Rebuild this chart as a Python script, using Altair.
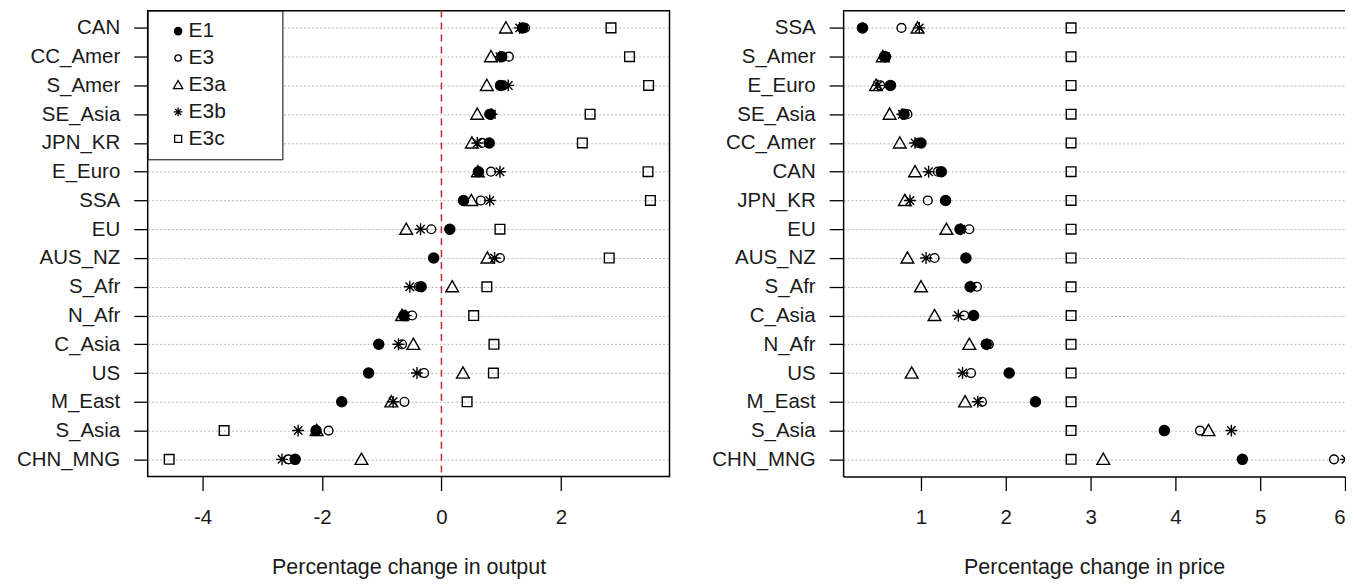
import altair as alt
import pandas as pd

series = ["E1", "E3", "E3a", "E3b", "E3c"]

# ---- left panel: percentage change in output ----
out_regions = ["CAN", "CC_Amer", "S_Amer", "SE_Asia", "JPN_KR", "E_Euro", "SSA", "EU",
               "AUS_NZ", "S_Afr", "N_Afr", "C_Asia", "US", "M_East", "S_Asia", "CHN_MNG"]
out_E1 = [1.36, 1.01, 0.99, 0.82, 0.80, 0.62, 0.37, 0.14, -0.13, -0.34, -0.63, -1.05, -1.22, -1.67, -2.10, -2.45]
out_E3 = [1.40, 1.13, 1.04, 0.80, 0.68, 0.83, 0.66, -0.17, 0.98, -0.38, -0.49, -0.66, -0.29, -0.62, -1.89, -2.56]
out_E3a = [1.08, 0.83, 0.76, 0.60, 0.51, 0.61, 0.50, -0.59, 0.77, 0.18, -0.66, -0.47, 0.36, -0.84, -2.09, -1.34]
out_E3b = [1.31, 0.98, 1.12, 0.84, 0.60, 0.98, 0.81, -0.35, 0.89, -0.53, -0.60, -0.72, -0.41, -0.81, -2.40, -2.67]
out_E3c = [2.84, 3.15, 3.47, 2.49, 2.36, 3.46, 3.50, 0.98, 2.81, 0.76, 0.54, 0.88, 0.87, 0.43, -3.64, -4.56]

# ---- right panel: percentage change in price ----
price_regions = ["SSA", "S_Amer", "E_Euro", "SE_Asia", "CC_Amer", "CAN", "JPN_KR", "EU",
                 "AUS_NZ", "S_Afr", "C_Asia", "N_Afr", "US", "M_East", "S_Asia", "CHN_MNG"]
pr_E1 = [0.31, 0.57, 0.64, 0.80, 1.00, 1.24, 1.29, 1.46, 1.53, 1.58, 1.62, 1.77, 2.04, 2.35, 3.87, 4.79]
pr_E3 = [0.77, 0.59, 0.52, 0.84, 0.97, 1.20, 1.08, 1.57, 1.16, 1.66, 1.51, 1.80, 1.59, 1.72, 4.29, 5.87]
pr_E3a = [0.96, 0.55, 0.47, 0.63, 0.75, 0.93, 0.81, 1.30, 0.84, 1.00, 1.16, 1.57, 0.89, 1.52, 4.39, 3.15]
pr_E3b = [0.98, 0.58, 0.49, 0.78, 0.93, 1.09, 0.87, 1.47, 1.06, 1.59, 1.44, 1.78, 1.49, 1.67, 4.66, 6.01]
pr_E3c = [2.77, 2.77, 2.77, 2.77, 2.77, 2.77, 2.77, 2.77, 2.77, 2.77, 2.77, 2.77, 2.77, 2.77, 2.77, 2.77]

out_ticks = [-4, -2, 0, 2]
price_ticks = [1, 2, 3, 4, 5, 6]
zero_line = [0.0]


def to_long(regions, columns):
    rows = []
    for s, vals in zip(series, columns):
        for r, v in zip(regions, vals):
            rows.append({"region": r, "series": s, "value": v})
    return pd.DataFrame(rows)


df_out = to_long(out_regions, [out_E1, out_E3, out_E3a, out_E3b, out_E3c])
df_price = to_long(price_regions, [pr_E1, pr_E3, pr_E3a, pr_E3b, pr_E3c])

FONT = "Liberation Sans"

# symbol outlines in unit coordinates (scaled by sqrt(size)/2 by Vega)
DOT = "M-0.92,0A0.92,0.92,0,1,1,0.92,0A0.92,0.92,0,1,1,-0.92,0Z"
RING = "M-0.8,0A0.8,0.8,0,1,1,0.8,0A0.8,0.8,0,1,1,-0.8,0Z"
TRI = "M0,-1.12L1.16,0.92L-1.16,0.92Z"
ASTER = "M-1.08,0L1.08,0M0,-1.08L0,1.08M-0.77,-0.77L0.77,0.77M-0.77,0.77L0.77,-0.77"
SQR = "M-0.88,-0.88L0.88,-0.88L0.88,0.88L-0.88,0.88Z"

shape_scale = alt.Scale(domain=series, range=[DOT, RING, TRI, ASTER, SQR])
fill_scale = alt.Scale(domain=series, range=["black", "transparent", "transparent", "transparent", "transparent"])
stroke_scale = alt.Scale(domain=series, range=["black", "black", "black", "black", "black"])

W_L, W_R, H = 523, 503, 467
TXT = "#1a1a1a"
LBL = 20.5
TTL = 21.5
MSIZE = 121

legend = alt.Legend(
    title="........", titleOrient="right", titlePadding=0, titleFontSize=21,
    titleColor="white", titleOpacity=0,
    orient="top-left", offset=0, strokeColor="black", fillColor="white",
    padding=10, rowPadding=5, labelFontSize=21, labelFont=FONT, labelColor=TXT,
    symbolSize=64, symbolStrokeWidth=1.3,
    symbolOffset=10, labelOffset=0, cornerRadius=0,
)

y_axis = dict(title=None, grid=True, gridDash=[2, 2], gridColor="#b8b8b8", gridWidth=1,
              labelFontSize=LBL, labelFont=FONT, labelColor=TXT, labelPadding=14,
              tickSize=14, tickColor="black", tickWidth=1.3, minExtent=139, maxExtent=139)
x_axis = dict(grid=False, labelFontSize=LBL, labelFont=FONT, labelColor=TXT, labelPadding=17,
              tickSize=14, tickColor="black", tickWidth=1.3, titleFont=FONT, titleFontSize=TTL,
              titleFontWeight="normal", titleColor=TXT, titlePadding=29,
              labelExpr="'' + datum.value")

# ---- left chart ----
pts_left = alt.Chart(df_out).mark_point(filled=False, strokeWidth=1.4, opacity=1, size=MSIZE).encode(
    x=alt.X("value:Q", scale=alt.Scale(domain=[-4.92, 3.82], nice=False, zero=False),
            axis=alt.Axis(values=out_ticks, title="Percentage change in output", domain=False, **x_axis)),
    y=alt.Y("region:N", sort=out_regions, scale=alt.Scale(padding=0.6),
            axis=alt.Axis(domain=False, **y_axis)),
    shape=alt.Shape("series:N", scale=shape_scale, legend=legend),
    fill=alt.Fill("series:N", scale=fill_scale, legend=legend),
    stroke=alt.Stroke("series:N", scale=stroke_scale, legend=legend),
)

zero_rule = alt.Chart(pd.DataFrame({"value": zero_line})).mark_rule(
    color="#c62828", strokeDash=[7, 5], strokeWidth=1.5
).encode(x=alt.X("value:Q", title="Percentage change in output"))

left = alt.layer(zero_rule, pts_left).properties(
    width=W_L, height=H, view=alt.ViewBackground(stroke="black", strokeWidth=1.5)
)

# ---- right chart ----
pts_right = alt.Chart(df_price).mark_point(filled=False, strokeWidth=1.4, opacity=1, size=MSIZE, clip=True).encode(
    x=alt.X("value:Q", scale=alt.Scale(domain=[0.082, 6.0], nice=False, zero=False),
            axis=alt.Axis(values=price_ticks, title="Percentage change in price", domain=True,
                          domainColor="black", domainWidth=1.5, **x_axis)),
    y=alt.Y("region:N", sort=price_regions, scale=alt.Scale(padding=0.6),
            axis=alt.Axis(domain=True, domainColor="black", domainWidth=1.5, **y_axis)),
    shape=alt.Shape("series:N", scale=shape_scale, legend=None),
    fill=alt.Fill("series:N", scale=fill_scale, legend=None),
    stroke=alt.value("black"),
)

top_border = alt.Chart(pd.DataFrame({"value": zero_line})).mark_rule(
    color="black", strokeWidth=1.5
).encode(y=alt.value(0), x=alt.value(0), x2=alt.value(W_R))

right = alt.layer(pts_right, top_border).properties(
    width=W_R, height=H, view=alt.ViewBackground(stroke=None)
)

chart = alt.hconcat(left, right, spacing=34).resolve_scale(
    shape="independent", fill="independent", stroke="independent"
).properties(
    padding={"left": 0, "top": 0, "right": 0, "bottom": 0}
).configure(font=FONT).configure_view(strokeWidth=1.5)

chart.save("out.html", embed_options={"renderer": "svg", "actions": False})
